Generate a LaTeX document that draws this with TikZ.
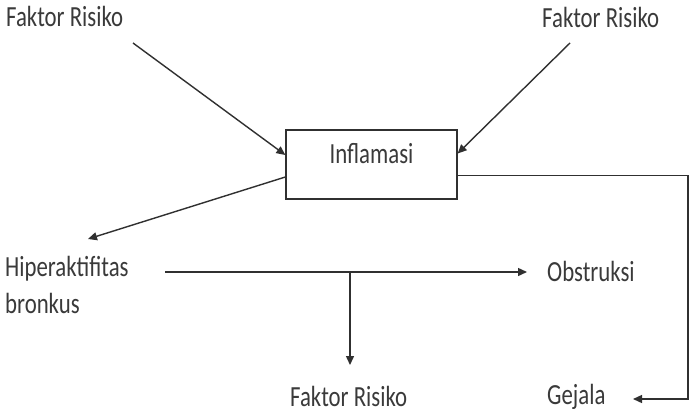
\documentclass[tikz,border=0pt]{standalone}
\usepackage{fontspec}
\setmainfont{Carlito}
\usetikzlibrary{arrows.meta}
\definecolor{ink}{HTML}{3A3A3A}
\definecolor{linec}{HTML}{303030}
\newcommand{\tx}[1]{\scalebox{1}[1.28]{#1}}
\begin{document}
\begin{tikzpicture}[x=1pt,y=-1pt,
  txt/.style={inner sep=0pt, text=ink, font=\fontsize{22.8}{27}\selectfont},
  boxnode/.style={draw=linec, line width=1.3pt, minimum width=171pt, minimum height=69pt, inner sep=0pt},
  arr/.style={draw=linec, line width=1.4pt, -{Triangle[length=9pt,width=8pt]}},
  ln/.style={draw=linec, line width=1.4pt}]
\useasboundingbox[fill=white] (0,0) rectangle (692,414);

\node[txt, anchor=base west] (f1) at (6,27) {\tx{Faktor Risiko}};
\node[txt, anchor=base west] (f2) at (542,28) {\tx{Faktor Risiko}};
\node[boxnode] (inf) at (371.5,164.5) {};
\node[txt, anchor=base] (inftxt) at (371.5,163) {\tx{Inflamasi}};
\node[txt, anchor=base west] (hip) at (5,276) {\tx{Hiperaktifitas}};
\node[txt, anchor=base west] (bro) at (5,313) {\tx{bronkus}};
\node[txt, anchor=base west] (obs) at (547,281) {\tx{Obstruksi}};
\node[txt, anchor=base west] (f3) at (290,406) {\tx{Faktor Risiko}};
\node[txt, anchor=base west] (gej) at (547,404) {\tx{Gejala}};

\coordinate (a1) at (133,43);
\coordinate (a2) at (570,43);
\coordinate (htip) at (88,239);
\coordinate (hs) at (165,272);
\coordinate (otip) at (527,272);
\coordinate (vs) at (350,272);
\coordinate (ftip) at (350,365);
\coordinate (rc) at (688,399);
\coordinate (gtip) at (633,399);

\draw[arr] (a1) -- ([yshift=9.5pt]inf.west);
\draw[arr] (a2) -- ([yshift=11pt]inf.east);
\draw[arr] ([yshift=-12.5pt]inf.west) -- (htip);
\draw[arr] (hs) -- (otip);
\draw[arr] (vs) -- (ftip);
\draw[arr] ([yshift=-11pt]inf.east) -| (rc) -- (gtip);
\end{tikzpicture}
\end{document}
